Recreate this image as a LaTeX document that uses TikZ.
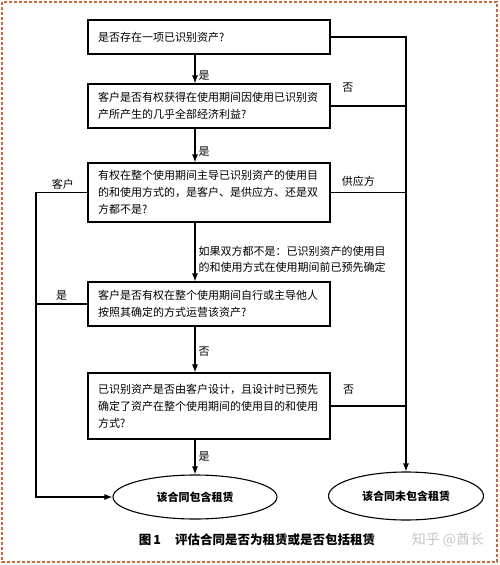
\documentclass[tikz,border=0pt]{standalone}
\usepackage{fontspec}
\setmainfont{Noto Sans CJK SC}
\usetikzlibrary{positioning,shapes.geometric,arrows.meta,calc}
\definecolor{FrameOrange}{RGB}{204,105,60}

\begin{document}
\begin{tikzpicture}[
    x=1pt, y=-1pt,
    line width=1.1pt,
    font=\fontsize{11}{17}\selectfont,
    block/.style={rectangle, draw, text width=222pt, inner xsep=10pt, inner ysep=2pt, align=left, minimum height=#1},
    result/.style={ellipse, draw, inner sep=0pt, font=\fontsize{11}{13}\selectfont\bfseries},
    line/.style={draw, ->, >={Latex[length=8pt,width=6pt]}},
    lbl/.style={inner sep=3pt, font=\fontsize{11}{16}\selectfont}
]
\useasboundingbox (0,0) rectangle (500,565);
\draw[FrameOrange, line width=1.2pt, dash pattern=on 3pt off 2pt] (2,2) rectangle (497,562);

% Place nodes
\node [block=34pt] (q1) at (209,37) {是否存在一项已识别资产?};
\node [block=44pt] (q2) at (209,106) {客户是否有权获得在使用期间因使用已识别资\\产所产生的几乎全部经济利益?};
\node [block=59pt] (q3) at (209,192.5) {有权在整个使用期间主导已识别资产的使用目\\的和使用方式的，是客户、是供应方、还是双\\方都不是?};
\node [block=44pt] (q4) at (209,304) {客户是否有权在整个使用期间自行或主导他人\\按照其确定的方式运营该资产?};
\node [block=66pt] (q5) at (209,406) {已识别资产是否由客户设计，且设计时已预先\\确定了资产在整个使用期间的使用目的和使用\\方式?};
\node [result, minimum width=164pt, minimum height=44pt] (lease) at (195,497) {该合同包含租赁};
\node [result, minimum width=155pt, minimum height=48pt] (nolease) at (406,496) {该合同未包含租赁};
\coordinate (lside) at (36,0);

% Draw edges
\draw [line] (q1.south -| lease.north) -- node[lbl, right, pos=0.72] {是} (q2.north -| lease.north);
\draw [line] (q2.south -| lease.north) -- node[lbl, right, pos=0.68] {是} (q3.north -| lease.north);
\draw [line] (q3.south -| lease.north) -- node[lbl, right, align=left, pos=0.62] {如果双方都不是：已识别资产的使用目\\的和使用方式在使用期间前已预先确定} (q4.north -| lease.north);
\draw [line] (q4.south -| lease.north) -- node[lbl, right, pos=0.55] {否} (q5.north -| lease.north);
\draw [line] (q5.south -| lease.north) -- node[lbl, right, pos=0.5] {是} (lease.north);

\draw [line] (q1.east) -| (nolease.north);
\draw (q2.east) -- node[lbl, above=10pt, pos=0.23] {否} (q2.east -| nolease.north);
\draw (q3.east) -- node[lbl, above=2pt, pos=0.37] {供应方} (q3.east -| nolease.north);
\draw (q5.east) -- node[lbl, above=8pt, pos=0.24] {否} (q5.east -| nolease.north);

\draw [line] (q3.west) -- node[lbl, above, pos=0.48] {客户} (q3.west -| lside) |- (lease.west);
\draw (q4.west) -- node[lbl, above, pos=0.5] {是} (q4.west -| lside);

% Caption
\node [font=\fontsize{12.5}{14}\selectfont\bfseries] (caption) at (257,540) {图\,1\hspace{14pt}评估合同是否为租赁或是否包括租赁};
\node [font=\fontsize{14}{16}\selectfont, text=gray!45] (mark) at (448,540) {知乎 @酋长};
\end{tikzpicture}
\end{document}
